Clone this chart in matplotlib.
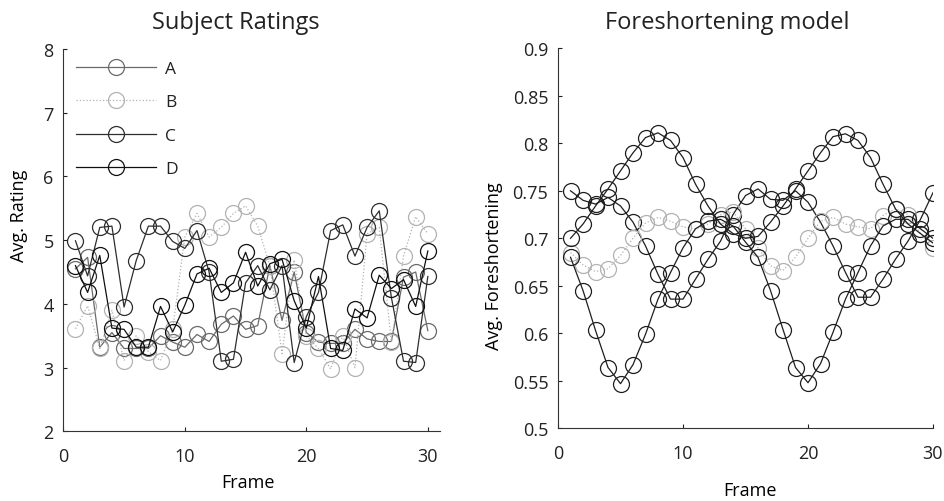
import matplotlib
matplotlib.use("Agg")
import matplotlib.pyplot as plt
from matplotlib.ticker import FuncFormatter, MultipleLocator

# Frame index shared by both panels
frames = list(range(1, 31))

# Subject ratings per condition
rating_a = [4.55, 4.73, 3.32, 3.55, 3.30, 3.30, 3.30, 3.50, 3.40, 3.32,
            3.52, 3.41, 3.68, 3.81, 3.60, 3.66, 4.60, 3.74, 4.50, 3.55,
            3.40, 3.38, 3.38, 3.60, 3.45, 3.41, 3.41, 4.42, 4.50, 3.58]
rating_b = [3.61, 3.97, 3.30, 3.90, 3.11, 3.50, 3.25, 3.11, 3.60, 5.05,
            5.42, 5.05, 5.20, 5.42, 5.54, 5.22, 4.60, 3.22, 4.69, 3.50,
            3.30, 2.98, 3.50, 3.00, 5.10, 5.20, 3.40, 4.75, 5.37, 5.10]
rating_c = [4.99, 4.44, 5.20, 5.22, 3.95, 4.68, 5.22, 5.22, 4.98, 4.87,
            5.15, 4.50, 3.10, 3.13, 4.33, 4.60, 4.22, 4.60, 3.08, 3.80,
            4.18, 5.15, 5.24, 4.75, 5.20, 5.46, 4.10, 3.10, 3.08, 4.43]
rating_d = [4.60, 4.18, 4.76, 3.62, 3.60, 3.32, 3.32, 3.96, 3.56, 3.98,
            4.47, 4.56, 4.18, 4.33, 4.81, 4.28, 4.63, 4.70, 4.05, 3.62,
            4.43, 3.30, 3.27, 3.92, 3.78, 4.45, 4.24, 4.38, 3.96, 4.83]
series_labels = ["A", "B", "C", "D"]

# Foreshortening model output per condition
fs_a = [0.750, 0.740, 0.736, 0.743, 0.734, 0.717, 0.692, 0.662, 0.636, 0.636,
        0.657, 0.678, 0.697, 0.725, 0.745, 0.752, 0.741, 0.740, 0.750, 0.738,
        0.717, 0.692, 0.664, 0.638, 0.638, 0.657, 0.678, 0.697, 0.720, 0.748]
fs_b = [0.685, 0.672, 0.665, 0.668, 0.682, 0.700, 0.716, 0.722, 0.718, 0.712,
        0.710, 0.715, 0.725, 0.728, 0.710, 0.690, 0.671, 0.666, 0.680, 0.700,
        0.718, 0.722, 0.715, 0.712, 0.710, 0.724, 0.731, 0.725, 0.705, 0.690]
fs_c = [0.700, 0.715, 0.734, 0.752, 0.771, 0.790, 0.806, 0.811, 0.803, 0.785,
        0.757, 0.734, 0.715, 0.705, 0.700, 0.702, 0.717, 0.734, 0.752, 0.771,
        0.790, 0.807, 0.810, 0.803, 0.785, 0.757, 0.731, 0.715, 0.705, 0.695]
fs_d = [0.680, 0.645, 0.603, 0.564, 0.547, 0.567, 0.599, 0.636, 0.664, 0.690,
        0.710, 0.718, 0.720, 0.713, 0.696, 0.680, 0.645, 0.604, 0.564, 0.548,
        0.568, 0.601, 0.636, 0.664, 0.692, 0.713, 0.720, 0.720, 0.710, 0.700]

plt.rcParams['font.family'] = ['Open Sans', 'DejaVu Sans']

line_styles = {
    "A": dict(color="#6a6a6a", linestyle="-"),
    "B": dict(color="#b2b2b2", linestyle=":"),
    "C": dict(color="#2e2e2e", linestyle="-"),
    "D": dict(color="#101010", linestyle="-"),
}
marker_kw = dict(marker="o", markersize=11.5, markerfacecolor="none",
                 markeredgewidth=0.9, linewidth=0.9)

fig = plt.figure(figsize=(9.45, 5.02), dpi=100)
ax1 = fig.add_axes([0.067, 0.1388, 0.3986, 0.7616])
ax2 = fig.add_axes([0.5905, 0.1448, 0.3968, 0.757])


def style_axes(ax):
    for side in ("top", "right"):
        ax.spines[side].set_visible(False)
    for side in ("left", "bottom"):
        ax.spines[side].set_linewidth(0.8)
        ax.spines[side].set_color("#333333")
    ax.tick_params(direction="in", length=3, width=0.8, labelsize=13,
                   colors="#222222")
    ax.tick_params(axis="x", pad=11)
    ax.tick_params(axis="y", pad=7)
    ax.yaxis.set_major_formatter(FuncFormatter(lambda v, p: f"{v:g}"))


# Left panel: subject ratings
for label, values in zip(series_labels, [rating_a, rating_b, rating_c, rating_d]):
    st = line_styles[label]
    ax1.plot(frames, values, label=label, color=st["color"],
             linestyle=st["linestyle"], markeredgecolor=st["color"], **marker_kw)
ax1.set_xlim(0, 31)
ax1.set_ylim(2, 8)
ax1.xaxis.set_major_locator(MultipleLocator(10))
ax1.yaxis.set_major_locator(MultipleLocator(1))
style_axes(ax1)
ax1.set_xlabel("Frame", fontsize=13)
ax1.set_ylabel("Avg. Rating", fontsize=13)
ax1.xaxis.set_label_coords(0.49, -0.109)
ax1.yaxis.set_label_coords(-0.093, 0.566)
ax1.text(0.458, 1.07, "Subject Ratings", transform=ax1.transAxes,
         ha="center", va="center", fontsize=17, color="#222222")
leg = ax1.legend(loc="upper left", bbox_to_anchor=(0.035, 0.97), frameon=False,
                 fontsize=12.5, handlelength=4.6, handletextpad=0.5,
                 labelspacing=1.0, borderpad=0, borderaxespad=0)
for t in leg.get_texts():
    t.set_color("#222222")

# Right panel: model output
for key, values in zip(series_labels, [fs_a, fs_b, fs_c, fs_d]):
    st = line_styles[key]
    col = st["color"] if key == "B" else "#1e1e1e"
    ax2.plot(frames, values, color=col, linestyle=st["linestyle"],
             markeredgecolor=col, **marker_kw)
ax2.set_xlim(0, 30)
ax2.set_ylim(0.5, 0.9)
ax2.xaxis.set_major_locator(MultipleLocator(10))
ax2.yaxis.set_major_locator(MultipleLocator(0.05))
style_axes(ax2)
ax2.set_xlabel("Frame", fontsize=13)
ax2.set_ylabel("Avg. Foreshortening", fontsize=13)
ax2.xaxis.set_label_coords(0.512, -0.139)
ax2.yaxis.set_label_coords(-0.146, 0.43)
ax2.text(0.452, 1.07, "Foreshortening model", transform=ax2.transAxes,
         ha="center", va="center", fontsize=17, color="#222222")

fig.savefig("out.png", dpi=100)
